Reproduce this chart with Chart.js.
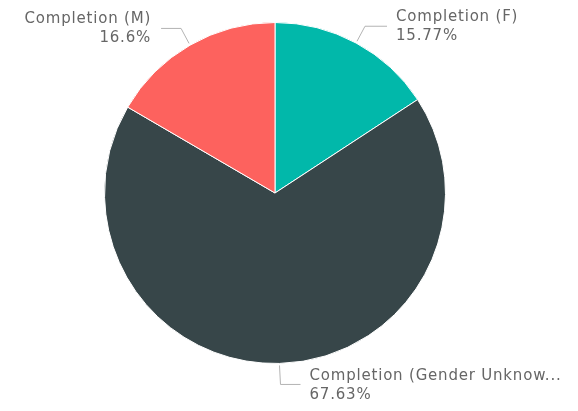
<!DOCTYPE html>
<html>
<head>
<meta charset="utf-8">
<script src="https://cdn.jsdelivr.net/npm/chart.js@4/dist/chart.umd.min.js"></script>
<style>
  html, body { margin: 0; padding: 0; background: #fff; }
  #wrap { width: 578px; height: 411px; position: relative; }
</style>
</head>
<body>
<div id="wrap"><canvas id="myChart"></canvas></div>
<script>
const labels = ['Completion (F)', 'Completion (Gender Unknow...', 'Completion (M)'];
const values = [15.77, 67.63, 16.6];
const colors = ['#01B8AA', '#374649', '#FD625E'];

// leader lines + two-line labels, placed from each arc's mid angle
const labelPlugin = {
  id: 'pieLabels',
  afterDatasetsDraw(chart) {
    const c = chart.ctx;
    const meta = chart.getDatasetMeta(0);
    c.save();
    c.font = '15px "DejaVu Sans"';
    c.letterSpacing = '0.8px';
    c.lineWidth = 1;
    meta.data.forEach((arc, i) => {
      const p = arc.getProps(['x', 'y', 'startAngle', 'endAngle', 'outerRadius'], true);
      const mid = (p.startAngle + p.endAngle) / 2;
      const x0 = p.x + Math.cos(mid) * (p.outerRadius + 2);
      const y0 = p.y + Math.sin(mid) * (p.outerRadius + 2);
      const right = Math.cos(mid) >= 0;
      const up = Math.sin(mid) < 0;
      let x1, y1, x2, tx, ty;
      if (Math.abs(Math.cos(mid)) < 0.2) {
        // near vertical: go straight down, then right
        x1 = x0 + 1; y1 = y0 + 19;
        x2 = x1 + 20; tx = x2 + 9; ty = y1 - 8;
        c.textAlign = 'left';
      } else {
        x1 = x0 + (right ? 8 : -8);
        y1 = y0 + (up ? -15 : 15);
        x2 = x1 + (right ? 22 : -20);
        tx = x2 + (right ? 9 : -10);
        ty = y1 - 9;
        c.textAlign = right ? 'left' : 'right';
      }
      c.strokeStyle = '#b3b3b3';
      c.beginPath();
      c.moveTo(x0, y0);
      c.lineTo(x1, y1);
      c.lineTo(x2, y1);
      c.stroke();
      c.fillStyle = '#666666';
      c.textBaseline = 'middle';
      c.fillText(chart.data.labels[i], tx, ty);
      c.fillText(values[i] + '%', tx, ty + 19);
    });
    c.restore();
  }
};

new Chart(document.getElementById('myChart'), {
  type: 'pie',
  data: {
    labels: labels,
    datasets: [{
      data: values,
      backgroundColor: colors,
      borderColor: '#ffffff',
      borderWidth: 1
    }]
  },
  options: {
    responsive: true,
    maintainAspectRatio: false,
    animation: false,
    layout: { padding: { left: 104, right: 132, top: 22, bottom: 47 } },
    plugins: {
      legend: { display: false },
      tooltip: { enabled: false }
    }
  },
  plugins: [labelPlugin]
});
</script>
</body>
</html>
